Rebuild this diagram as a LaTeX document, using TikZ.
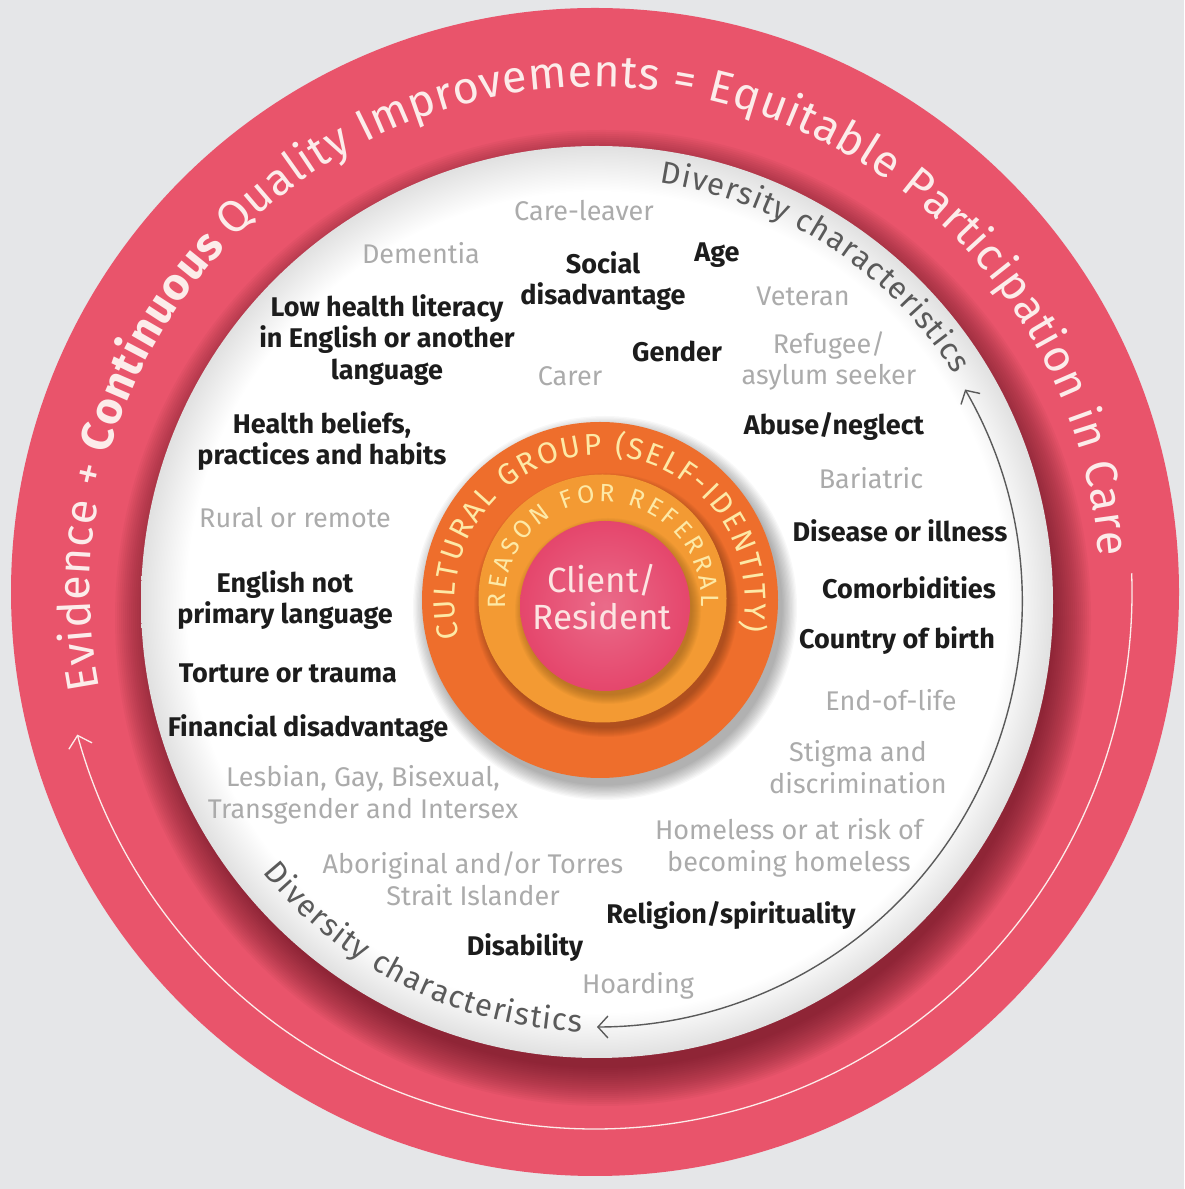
\documentclass[tikz,border=0pt]{standalone}
\usepackage{fontspec}
\setmainfont{Fira Sans}
\usetikzlibrary{decorations.text,arrows.meta}
\definecolor{bg}{HTML}{E5E6E8}
\definecolor{ringpink}{HTML}{E9546B}
\definecolor{ringtext}{HTML}{FCECEA}
\definecolor{shadowred}{HTML}{5A0F1C}
\definecolor{orangeA}{HTML}{EE6E2C}
\definecolor{orangeB}{HTML}{F39A33}
\definecolor{corepink}{HTML}{E5466C}
\definecolor{paleyellow}{HTML}{FDE9A6}
\definecolor{coretext}{HTML}{FCE4E2}
\definecolor{darktext}{HTML}{1C1C1C}
\definecolor{lighttext}{HTML}{ABABAB}
\definecolor{divtext}{HTML}{5A5A5A}
\newcommand\ringfmt{\fontsize{45}{45}\selectfont\color{ringtext}}
\newcommand\ringbold{\fontsize{45}{45}\selectfont\bfseries\color{ringtext}}
\newcommand\culturefmt{\fontsize{30}{30}\selectfont\color{paleyellow}}
\newcommand\reasonfmt{\fontsize{25}{25}\selectfont\color{paleyellow}}
\newcommand\divfmt{\fontsize{31}{31}\selectfont\color{divtext}}
\pgfdeclareradialshading{discshade}{\pgfpoint{0bp}{0bp}}{color(0bp)=(white); color(22.5bp)=(white); color(25bp)=(black!12); color(50bp)=(black!12)}
\begin{document}
\begin{tikzpicture}[x=1pt,y=1pt,
  darklabel/.style={font=\fontsize{27}{31.5}\selectfont\bfseries, text=darktext, align=center, inner sep=0pt},
  greylabel/.style={font=\fontsize{27}{31.5}\selectfont, text=lighttext, align=center, inner sep=0pt},
  ringline/.style={draw=ringtext, line width=1.3pt},
  divline/.style={draw=divtext, line width=1.4pt},
  ringtextpath/.style={decorate, decoration={text along path, text align={fit to path}, text={#1}}},
]
\useasboundingbox (0,0) rectangle (1184,1189);
\fill[bg] (0,0) rectangle (1184,1189);
\coordinate (O) at (595,597);
\coordinate (W) at (597,587);
\coordinate (C1) at (600,589);
\coordinate (C2) at (602.5,590.5);
\coordinate (C3) at (605,583);
% outer ring
\fill[ringpink] (O) circle[radius=584];
\path[ringtextpath={|\ringfmt|Evidence + |\ringbold|Continuous |\ringfmt|Quality Improvements = Equitable Participation in Care}]
  (O) ++(191:505) arc[start angle=191, end angle=4, radius=505];
\draw[ringline, -{Straight Barb[length=11pt,width=24pt]}]
  (O) ++(2:537) coordinate (ringstart) arc[start angle=2, end angle=-164.6, radius=537] coordinate (ringend);
% white disc with shadow
\foreach \k in {0,...,19} \fill[shadowred, opacity=0.045] (603,571) circle[radius={488-2*\k}];
\shade[shading=discshade] (W) circle[radius=456];
% diversity arcs
\path[ringtextpath={|\divfmt|Diversity characteristics}]
  (W) ++(81.5:424) arc[start angle=81.5, end angle=32.5, radius=424];
\path[ringtextpath={|\divfmt|Diversity characteristics}]
  (W) ++(219:430) arc[start angle=219, end angle=268, radius=430];
\draw[divline, {Straight Barb[length=10pt,width=22pt]}-{Straight Barb[length=10pt,width=22pt]}]
  (W) ++(30:425) coordinate (divstart) arc[start angle=30, end angle=-90, radius=425] coordinate (divend);
% core circles
\foreach \k in {0,...,11} \fill[black, opacity=0.028] (605,581) circle[radius={192-1.3*\k}];
\fill[orangeA] (C1) circle[radius=178];
\foreach \k in {0,...,9} \fill[black!60!orangeA, opacity=0.05] (606,584) circle[radius={132-\k}];
\fill[orangeB] (C2) circle[radius=124];
\foreach \k in {0,...,9} \fill[black!50!orangeB, opacity=0.05] (608,578) circle[radius={93-\k}];
\shade[inner color=corepink!80!white, outer color=corepink] (C3) circle[radius=85];
\path[ringtextpath={|\culturefmt|CULTURAL GROUP (SELF-IDENTITY)}]
  (C1) ++(195:145) arc[start angle=195, end angle=-12, radius=145];
\path[ringtextpath={|\reasonfmt|REASON FOR REFERRAL}]
  (603,589) ++(185:98) arc[start angle=185, end angle=-4, radius=98];
\node[font=\fontsize{35}{37}\selectfont, text=coretext, align=center, inner sep=0pt] (core) at (602,592) {Client/\\Resident};
% dark labels
\node[darklabel] (social) at (603,908) {Social\\disadvantage};
\node[darklabel] (age) at (717,934) {Age};
\node[darklabel] (lowhealth) at (387,849) {Low health literacy\\in English or another\\language};
\node[darklabel] (gender) at (677,838) {Gender};
\node[darklabel] (beliefs) at (322,748) {Health beliefs,\\practices and habits};
\node[darklabel] (abuse) at (834,763) {Abuse/neglect};
\node[darklabel] (disease) at (900,658) {Disease or illness};
\node[darklabel] (englishnot) at (285,589) {English not\\primary language};
\node[darklabel] (comorb) at (909,601) {Comorbidities};
\node[darklabel] (country) at (897,548) {Country of birth};
\node[darklabel] (torture) at (288,516) {Torture or trauma};
\node[darklabel] (financial) at (308,460) {Financial disadvantage};
\node[darklabel] (religion) at (731,274) {Religion/spirituality};
\node[darklabel] (disability) at (525,241) {Disability};
% grey labels
\node[greylabel] (careleaver) at (584,978) {Care-leaver};
\node[greylabel] (dementia) at (421,936) {Dementia};
\node[greylabel] (veteran) at (803,893) {Veteran};
\node[greylabel] (carer) at (570,813) {Carer};
\node[greylabel] (refugee) at (829,828) {Refugee/\\asylum seeker};
\node[greylabel] (bariatric) at (871,711) {Bariatric};
\node[greylabel] (rural) at (295,671) {Rural or remote};
\node[greylabel] (endoflife) at (891,489) {End-of-life};
\node[greylabel] (stigma) at (858,422) {Stigma and\\discrimination};
\node[greylabel] (lgbti) at (363,394) {Lesbian, Gay, Bisexual,\\Transgender and Intersex};
\node[greylabel] (homeless) at (789,341) {Homeless or at risk of\\becoming homeless};
\node[greylabel] (aboriginal) at (473,310) {Aboriginal and/or Torres\\Strait Islander};
\node[greylabel] (hoarding) at (638,203) {Hoarding};
\end{tikzpicture}
\end{document}
